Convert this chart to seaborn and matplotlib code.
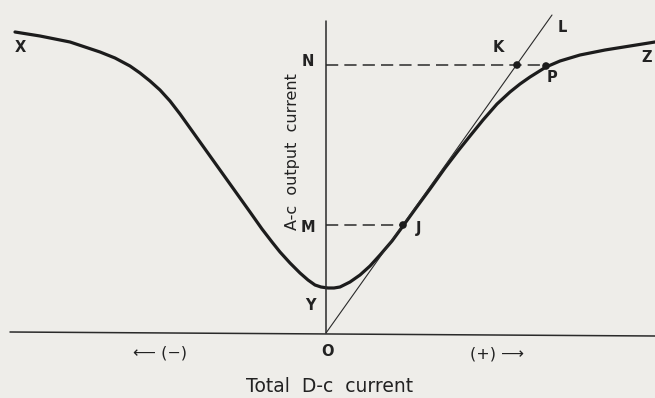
import numpy as np
import pandas as pd
import matplotlib
matplotlib.use("Agg")
import matplotlib.pyplot as plt
import seaborn as sns

# characteristic curve X-Y-Z (total d-c current vs a-c output current)
dc_current = [-311, -286, -256, -226, -211, -196, -186, -176, -166, -156, -146, -136, -121, -106,
              -91, -76, -64, -54, -46, -36, -26, -18, -11, -5, 2, 8, 14, 24, 34, 44, 54, 66, 77,
              90, 104, 119, 132, 144, 157, 171, 184, 194, 204, 220, 234, 254, 279, 304, 329]
ac_output = [301, 297, 291, 281, 275, 267, 260, 252, 243, 232, 219, 205, 184, 163,
             142, 121, 104, 91, 81, 70, 60, 53, 48, 46, 45, 45, 46, 51, 58, 67, 78, 92, 107,
             125, 144, 165, 182, 197, 213, 229, 241, 249, 256, 266, 272, 278, 283, 287, 291]

# straight line O-L through the origin
line_x = [0, 226]
line_y = [0, 318]

# marked points J, K, P
pt_names = ["J", "K", "P"]
pt_x = [77, 191, 220]
pt_y = [108, 268, 267]

# dashed levels M and N
level_names = ["M", "N"]
level_y = [108, 268]
level_end = [77, 220]

sns.set_style("white")
plt.rcParams['font.family'] = ['DejaVu Sans']
bg = '#eeede9'

fig, ax = plt.subplots(figsize=(6.55, 3.98), dpi=100)
fig.patch.set_facecolor(bg)
ax.set_facecolor(bg)
ax.set_position([0, 0, 1, 1])

curve = pd.DataFrame({'dc': dc_current, 'ac': ac_output})
sns.lineplot(data=curve, x='dc', y='ac', color='#1c1c1c', lw=2.3, ax=ax, sort=False,
             solid_joinstyle='round', solid_capstyle='round')

# O-L line
sns.lineplot(x=line_x, y=line_y, color='#2a2a2a', lw=0.8, ax=ax)

# axes drawn as plain lines
ax.plot([-316, 329], [1, -3], color='#2a2a2a', lw=1.1)
ax.plot([0, 0], [0, 312], color='#2a2a2a', lw=1.1)

# dashed levels
for yv, xe in zip(level_y, level_end):
    ax.plot([0, xe], [yv, yv], color='#2a2a2a', lw=1.1, ls=(0, (8, 4)))

sns.scatterplot(x=pt_x, y=pt_y, color='#1c1c1c', s=30, ax=ax, zorder=5, edgecolor='none')

tk = dict(color='#222222', fontsize=10.5, fontweight='bold')
ax.text(-306, 285, 'X', ha='center', va='center', **tk)
ax.text(-12, 271, 'N', ha='right', va='center', **tk)
ax.text(-11, 106, 'M', ha='right', va='center', **tk)
ax.text(-10, 27, 'Y', ha='right', va='center', **tk)
ax.text(1, -19, 'O', ha='center', va='center', **tk)
ax.text(172, 286, 'K', ha='center', va='center', **tk)
ax.text(236, 305, 'L', ha='center', va='center', **tk)
ax.text(226, 256, 'P', ha='center', va='center', **tk)
ax.text(321, 275, 'Z', ha='center', va='center', **tk)
ax.text(93, 105, 'J', ha='center', va='center', **tk)

lab = dict(color='#222222', fontsize=11.5)
ax.text(-34, 181, 'A-c  output  current', rotation=90, ha='center', va='center', **lab)
ax.text(-166, -20, '\u27f5 (\u2212)', ha='center', va='center', **lab)
ax.text(171, -21, '(+) \u27f6', ha='center', va='center', **lab)
ax.text(4, -53, 'Total  D-c  current', ha='center', va='center', color='#222222', fontsize=13.5)

ax.set_xlim(-326, 329)
ax.set_ylim(-65, 333)
ax.axis('off')

fig.savefig('out.png', dpi=100, facecolor=bg)
